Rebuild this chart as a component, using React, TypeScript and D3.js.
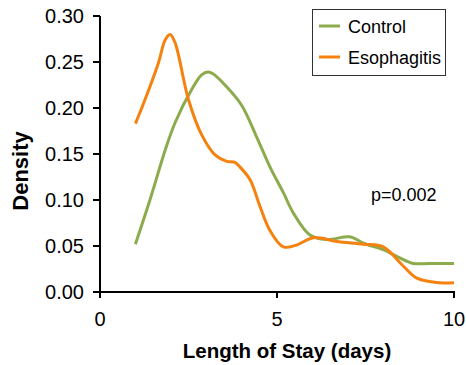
import React from "react";
import * as d3 from "d3";

const controlX = [1.0, 1.41, 1.84, 2.12, 2.59, 2.87, 3.05, 3.2, 3.53, 4.0, 4.42, 4.8, 5.18, 5.46, 5.93, 6.4, 7.06, 7.44, 8.0, 8.47, 8.85, 9.3, 10.0];
const controlY = [0.052, 0.1, 0.154, 0.184, 0.22, 0.236, 0.239, 0.237, 0.225, 0.203, 0.169, 0.136, 0.108, 0.086, 0.062, 0.057, 0.06, 0.053, 0.046, 0.037, 0.031, 0.031, 0.031];

const esoX = [1.0, 1.27, 1.65, 1.84, 1.98, 2.12, 2.5, 2.87, 3.25, 3.58, 3.81, 3.95, 4.24, 4.52, 4.8, 5.18, 5.55, 6.03, 6.68, 7.44, 8.0, 8.57, 8.95, 9.6, 10.0];
const esoY = [0.183, 0.209, 0.249, 0.274, 0.28, 0.271, 0.209, 0.171, 0.149, 0.142, 0.141, 0.136, 0.122, 0.093, 0.067, 0.049, 0.051, 0.059, 0.055, 0.052, 0.049, 0.028, 0.015, 0.01, 0.01];

const xTicks = [0, 5, 10];
const yTicks = [0, 0.05, 0.1, 0.15, 0.2, 0.25, 0.3];
const seriesNames = ["Control", "Esophagitis"];
const colors = ["#8cab4c", "#f5820f"];

const FONT = "'Liberation Sans', Arial, Helvetica, sans-serif";

export default function App() {
  const x = d3.scaleLinear().domain([0, 10]).range([100, 454]);
  const y = d3.scaleLinear().domain([0, 0.3]).range([292, 16]);
  const line = d3
    .line<[number, number]>()
    .x((d) => x(d[0]))
    .y((d) => y(d[1]))
    .curve(d3.curveCatmullRom.alpha(0.5));
  const series = [
    controlX.map((v, i) => [v, controlY[i]] as [number, number]),
    esoX.map((v, i) => [v, esoY[i]] as [number, number]),
  ];

  return (
    <svg
      width={466}
      height={365}
      style={{ position: "absolute", left: 0, top: 0, background: "#fff" }}
      fontFamily={FONT}
    >
      {/* y axis */}
      <line x1={x(0)} x2={x(0)} y1={y(0.3)} y2={y(0)} stroke="#000" strokeWidth={2} />
      {yTicks.map((t) => (
        <g key={t}>
          <line x1={x(0) - 7} x2={x(0)} y1={y(t)} y2={y(t)} stroke="#000" strokeWidth={2} />
          <text x={84} y={y(t)} dy="0.36em" textAnchor="end" fontSize={20} fill="#000">
            {t.toFixed(2)}
          </text>
        </g>
      ))}
      {/* x axis */}
      <line x1={x(0) - 7} x2={x(10) + 1} y1={y(0)} y2={y(0)} stroke="#000" strokeWidth={2} />
      {xTicks.map((t) => (
        <g key={t}>
          <line x1={x(t)} x2={x(t)} y1={y(0)} y2={y(0) + 6} stroke="#000" strokeWidth={2} />
          <text x={x(t)} y={326} textAnchor="middle" fontSize={20} fill="#000">
            {t}
          </text>
        </g>
      ))}
      <text x={287} y={358} textAnchor="middle" fontSize={20.5} fontWeight="bold" fill="#000">
        Length of Stay (days)
      </text>
      <text
        transform={`translate(28,171) rotate(-90)`}
        textAnchor="middle"
        fontSize={22}
        fontWeight="bold"
        fill="#000"
      >
        Density
      </text>
      {/* curves */}
      {series.map((s, i) => (
        <path key={i} d={line(s) || ""} fill="none" stroke={colors[i]} strokeWidth={3} strokeLinejoin="round" />
      ))}
      <text x={371} y={201} fontSize={18} fill="#000">
        p=0.002
      </text>
      {/* legend */}
      <rect x={312.5} y={9.5} width={133} height={66} fill="#fff" stroke="#333" strokeWidth={1} />
      {seriesNames.map((n, i) => (
        <g key={n}>
          <line x1={319} x2={340} y1={26 + i * 31} y2={26 + i * 31} stroke={colors[i]} strokeWidth={3} />
          <text x={348} y={33 + i * 31} fontSize={18} fill="#000">
            {n}
          </text>
        </g>
      ))}
    </svg>
  );
}
